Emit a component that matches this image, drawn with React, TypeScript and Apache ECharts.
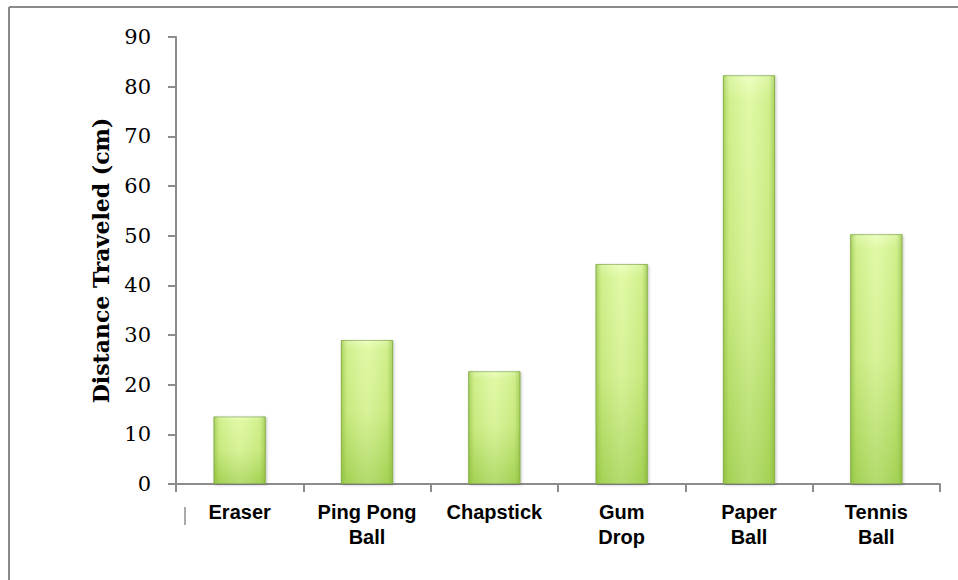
import React, { useEffect, useRef } from "react";
import * as echarts from "echarts";

const categories = ["Eraser", "Ping Pong\nBall", "Chapstick", "Gum\nDrop", "Paper\nBall", "Tennis\nBall"];
const distances = [13.6, 29.0, 22.7, 44.3, 82.3, 50.3];
const yTicks = { min: 0, max: 90, interval: 10 };
const yTitle = "Distance Traveled (cm)";

export default function App() {
  const ref = useRef<HTMLDivElement>(null);

  useEffect(() => {
    if (!ref.current) return;
    const chart = echarts.init(ref.current, null, { renderer: "svg" });

    const baseFill = new echarts.graphic.LinearGradient(0, 0, 0, 1, [
      { offset: 0, color: "#eaffb8" },
      { offset: 0.06, color: "#dcf89a" },
      { offset: 0.5, color: "#d2f08a" },
      { offset: 1, color: "#a9d65a" },
    ]);
    const edgeShade = new echarts.graphic.LinearGradient(0, 0, 1, 0, [
      { offset: 0, color: "rgba(120,170,40,0.55)" },
      { offset: 0.12, color: "rgba(140,190,60,0.15)" },
      { offset: 0.5, color: "rgba(255,255,255,0.12)" },
      { offset: 0.88, color: "rgba(140,190,60,0.15)" },
      { offset: 1, color: "rgba(120,170,40,0.55)" },
    ]);

    chart.setOption({
      animation: false,
      grid: { left: 176, right: 18, top: 37, bottom: 96 },
      graphic: [
        { type: "line", shape: { x1: 9, y1: 7, x2: 958, y2: 7 }, style: { stroke: "#8a8a8a", lineWidth: 2 } },
        { type: "line", shape: { x1: 9, y1: 7, x2: 9, y2: 580 }, style: { stroke: "#8a8a8a", lineWidth: 2 } },
        { type: "line", shape: { x1: 185, y1: 507, x2: 185, y2: 525 }, style: { stroke: "#555", lineWidth: 1 } },
      ],
      xAxis: {
        type: "category",
        data: categories,
        axisLine: { lineStyle: { color: "#8c8c8c", width: 2 } },
        axisTick: { show: true, length: 8, lineStyle: { color: "#8c8c8c", width: 2 } },
        axisLabel: {
          color: "#000",
          fontFamily: "Liberation Sans, Arial, sans-serif",
          fontWeight: "bold",
          fontSize: 20,
          lineHeight: 25,
          margin: 15,
          interval: 0,
        },
      },
      yAxis: {
        type: "value",
        min: yTicks.min,
        max: yTicks.max,
        interval: yTicks.interval,
        name: yTitle,
        nameLocation: "middle",
        nameGap: 64,
        nameTextStyle: {
          color: "#000",
          fontFamily: "DejaVu Serif, serif",
          fontWeight: "bold",
          fontSize: 22,
        },
        axisLine: { show: true, lineStyle: { color: "#8c8c8c", width: 2 } },
        axisTick: { show: true, length: 8, lineStyle: { color: "#8c8c8c", width: 2 } },
        splitLine: { show: false },
        axisLabel: {
          color: "#000",
          fontFamily: "DejaVu Serif, serif",
          fontSize: 21,
          margin: 25,
        },
      },
      series: [
        {
          type: "bar",
          data: distances,
          barWidth: "41%",
          itemStyle: {
            color: baseFill,
            borderColor: "rgba(140,175,90,0.8)",
            borderWidth: 1,
            shadowColor: "rgba(0,0,0,0.25)",
            shadowBlur: 3,
            shadowOffsetX: 1,
            shadowOffsetY: 1,
          },
        },
        {
          type: "bar",
          data: distances,
          barWidth: "41%",
          barGap: "-100%",
          silent: true,
          itemStyle: { color: edgeShade },
        },
      ],
    });

    return () => chart.dispose();
  }, []);

  return <div ref={ref} style={{ width: 958, height: 580, position: "absolute", left: 0, top: 0, background: "#fff" }} />;
}
